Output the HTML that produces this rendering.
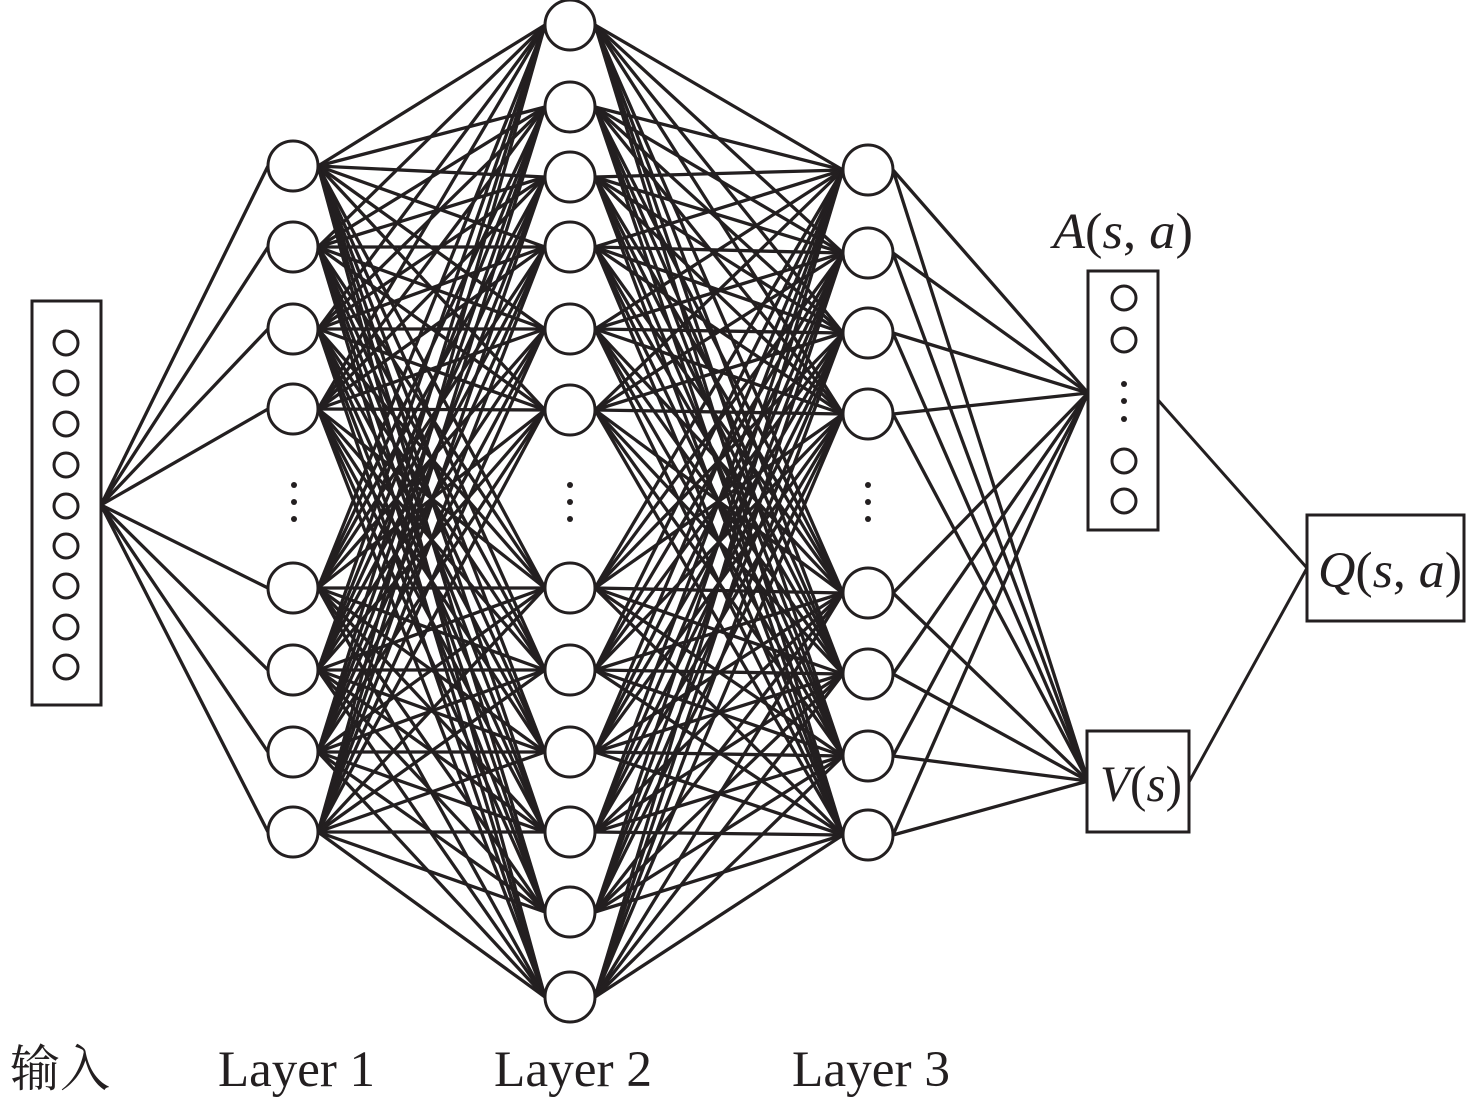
<!DOCTYPE html>
<html><head><meta charset="utf-8"><style>body{margin:0;background:#fff}svg{display:block}</style></head><body>
<svg id="s" width="1476" height="1102" xmlns="http://www.w3.org/2000/svg" font-family="'Liberation Serif','Noto Serif CJK SC',serif">
<g id="lines" stroke="#231f20" stroke-width="3.3" fill="none"></g>
<g id="nodes" stroke="#231f20" stroke-width="3" fill="#fff"></g>
<rect x="32" y="301" width="69" height="404" fill="#fff" stroke="#231f20" stroke-width="3"/>
<g stroke="#231f20" stroke-width="3" fill="#fff">
<circle cx="66" cy="343" r="12"/><circle cx="66" cy="383" r="12"/><circle cx="66" cy="424" r="12"/><circle cx="66" cy="465" r="12"/><circle cx="66" cy="506" r="12"/><circle cx="66" cy="546" r="12"/><circle cx="66" cy="586" r="12"/><circle cx="66" cy="627" r="12"/><circle cx="66" cy="667" r="12"/>
<rect x="1088" y="271" width="70" height="259"/>
<circle cx="1124" cy="298" r="12"/><circle cx="1124" cy="340" r="12"/><circle cx="1124" cy="461" r="12"/><circle cx="1124" cy="501" r="12"/>
<rect x="1087" y="731" width="102" height="101"/>
<rect x="1307" y="515" width="157" height="106"/>
<line x1="1158" y1="400" x2="1307" y2="568" fill="none"/>
<line x1="1189" y1="782" x2="1307" y2="568" fill="none"/>
</g>
<g fill="#231f20">
<circle cx="1124" cy="384" r="3"/><circle cx="1124" cy="401" r="3"/><circle cx="1124" cy="419" r="3"/>
<circle cx="294" cy="485" r="3"/><circle cx="294" cy="502" r="3"/><circle cx="294" cy="519" r="3"/>
<circle cx="570" cy="485" r="3"/><circle cx="570" cy="502" r="3"/><circle cx="570" cy="519" r="3"/>
<circle cx="868" cy="485" r="3"/><circle cx="868" cy="502" r="3"/><circle cx="868" cy="519" r="3"/>
</g>
<g font-size="51" fill="#231f20">
<text x="1053" y="248" font-style="italic" textLength="140" lengthAdjust="spacingAndGlyphs">A<tspan font-style="normal">(</tspan>s<tspan font-style="normal">, </tspan>a<tspan font-style="normal">)</tspan></text>
<text x="1100" y="801" font-style="italic" textLength="82" lengthAdjust="spacingAndGlyphs">V<tspan font-style="normal">(</tspan>s<tspan font-style="normal">)</tspan></text>
<text x="1318" y="587" font-style="italic" textLength="144" lengthAdjust="spacingAndGlyphs">Q<tspan font-style="normal">(</tspan>s<tspan font-style="normal">, </tspan>a<tspan font-style="normal">)</tspan></text>
<text x="10" y="1086" font-size="50" textLength="100" lengthAdjust="spacingAndGlyphs">输入</text>
<text x="218" y="1086" textLength="157" lengthAdjust="spacingAndGlyphs">Layer 1</text>
<text x="494" y="1086" textLength="158" lengthAdjust="spacingAndGlyphs">Layer 2</text>
<text x="792" y="1086" textLength="158" lengthAdjust="spacingAndGlyphs">Layer 3</text>
</g>
<script>
const L1=[166,247,329,409,588,670,752,832],L2=[25,107,177,247,329,410,588,670,752,832,912,997],L3=[170,253,333,414,593,674,756,835];
const lg=document.getElementById('lines'),ng=document.getElementById('nodes'),ns='http://www.w3.org/2000/svg';
function ln(a,b,c,d){const e=document.createElementNS(ns,'line');e.setAttribute('x1',a);e.setAttribute('y1',b);e.setAttribute('x2',c);e.setAttribute('y2',d);lg.appendChild(e);}
function nd(x,y){const e=document.createElementNS(ns,'ellipse');e.setAttribute('cx',x);e.setAttribute('cy',y);e.setAttribute('rx',25);e.setAttribute('ry',25);ng.appendChild(e);}
L1.forEach(y=>ln(101,505,268,y));
L1.forEach(a=>L2.forEach(b=>ln(318,a,545,b)));
L2.forEach(a=>L3.forEach(b=>ln(595,a,843,b)));
L3.forEach(y=>{ln(893,y,1088,393);ln(893,y,1088,781);});
L1.forEach(y=>nd(293,y));L2.forEach(y=>nd(570,y));L3.forEach(y=>nd(868,y));
</script>
</svg>
</body></html>
